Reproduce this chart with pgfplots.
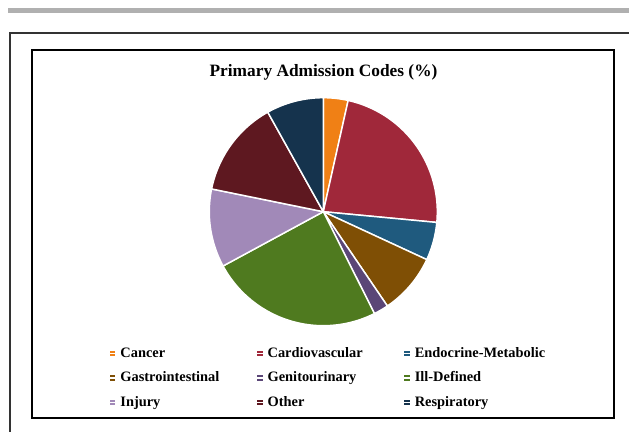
\documentclass[border=0pt]{standalone}
\usepackage{pgfplots}
\pgfplotsset{compat=1.18}
\usepackage{fontspec}
\setmainfont{Liberation Serif}
\definecolor{cCancer}{HTML}{F08015}
\definecolor{cCardio}{HTML}{A0283A}
\definecolor{cEndo}{HTML}{1F5A7E}
\definecolor{cGastro}{HTML}{7F4F05}
\definecolor{cGenito}{HTML}{5B4677}
\definecolor{cIll}{HTML}{4F7A1F}
\definecolor{cInjury}{HTML}{A189B8}
\definecolor{cOther}{HTML}{5E1820}
\definecolor{cResp}{HTML}{15334D}
\begin{document}
\begin{tikzpicture}[x=0.75pt,y=-0.75pt]
\useasboundingbox (0,0) rectangle (629,432);
\begin{scope}
\clip (0,0) rectangle (629,432);
\fill[black!31] (8,8) rectangle (640,13);
\draw[line width=1.6pt, black!80] (10,440) -- (10,33) -- (640,33);
\draw[line width=1.2pt, black] (32,50) rectangle (614,418);
\end{scope}
\node[font=\bfseries\fontsize{13}{15}\selectfont, anchor=center] at (323.5,72) {Primary Admission Codes (\%)};
\coordinate (PC) at (323.3,211.7);
\begin{axis}[
  at={(PC)}, anchor=center,
  width=171pt, height=171pt, scale only axis,
  xmin=-1, xmax=1, ymin=-1, ymax=1,
  hide axis, clip=false,
  legend columns=3,
  legend image code/.code={\fill[#1,draw=none] (0pt,-2pt) rectangle (4pt,2pt); \path (0pt,0pt) -- (7.3pt,0pt);},
  legend style={draw=none, fill=none, inner sep=0pt, row sep=9.3pt, column sep=0pt,
    at={(-0.44,-0.094)}, anchor=north west,
    font=\bfseries\fontsize{10.8}{12}\selectfont,
    nodes={inner sep=0pt, text width=102pt, align=left, anchor=west}},
]
\xdef\cum{0}
\foreach \v/\c/\n in {3.5/cCancer/Cancer, 23.0/cCardio/Cardiovascular, 5.4/cEndo/Endocrine-Metabolic, 8.6/cGastro/Gastrointestinal, 2.1/cGenito/Genitourinary, 24.5/cIll/Ill-Defined, 11.1/cInjury/Injury, 13.7/cOther/Other, 8.1/cResp/Respiratory} {
  \pgfmathsetmacro{\a}{\cum}
  \pgfmathsetmacro{\b}{\cum+\v}
  \edef\temp{\noexpand\addplot[fill=\c, draw=white, line width=1.1pt, line join=round, domain=\a:\b, samples=60, variable=\noexpand\t]
    ({sin(\noexpand\t*3.6)},{cos(\noexpand\t*3.6)}) -- (axis cs:0,0) -- cycle;
    \noexpand\addlegendentry{\n}}
  \temp
  \xdef\cum{\b}
}
\end{axis}
\end{tikzpicture}
\end{document}
